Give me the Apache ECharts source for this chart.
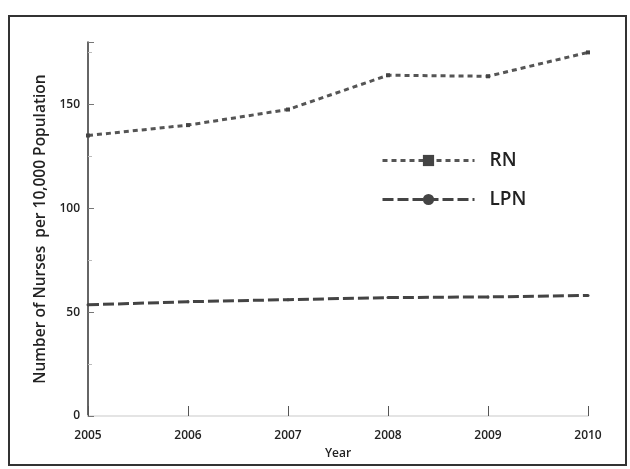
<!DOCTYPE html>
<html><head><meta charset="utf-8">
<script src="https://cdn.jsdelivr.net/npm/echarts@6/dist/echarts.min.js"></script>
<style>html,body{margin:0;padding:0;background:#fff}#c{width:630px;height:469px}</style>
</head><body><div id="c"></div>
<script>
const years = ['2005','2006','2007','2008','2009','2010'];
const rn = [135, 140, 147.5, 164, 163.5, 175];
const lpn = [53.5, 55, 56, 57, 57.3, 58];
const yTicks = [0, 50, 100, 150];

const chart = echarts.init(document.getElementById('c'));
const font = 'Open Sans, Liberation Sans, sans-serif';
chart.setOption({
  animation: false,
  backgroundColor: '#fff',
  graphic: [{type:'rect', shape:{x:9, y:16, width:617, height:449}, style:{fill:'none', stroke:'#333', lineWidth:2}}],
  grid: {left: 88, right: 42, top: 42, bottom: 53},
  legend: {
    left: 376, top: 146, orient: 'vertical', itemGap: 20,
    itemWidth: 92, itemHeight: 14,
    lineStyle: {width: 3},
    textStyle: {fontSize: 19, color: '#222', fontFamily: font, fontWeight: 600, padding:[0,0,0,10]},
    data: ['RN', 'LPN']
  },
  xAxis: {
    type: 'category', data: years, boundaryGap: false,
    name: 'Year', nameLocation: 'middle', nameGap: 32,
    nameTextStyle: {fontSize: 12, color: '#222', fontFamily: font, fontWeight: 600},
    axisLine: {show: true, lineStyle: {color: '#e4e4e4', width: 2}},
    axisTick: {show: true, inside: true, length: 10, lineStyle: {color: '#555'}},
    axisLabel: {fontSize: 12, color: '#222', fontFamily: font, fontWeight: 600, margin: 14}
  },
  yAxis: {
    type: 'value', min: 0, max: 180, interval: 50,
    name: 'Number of Nurses  per 10,000 Population', nameLocation: 'middle', nameGap: 36,
    nameTextStyle: {fontSize: 15.5, color: '#222', fontFamily: font, fontWeight: 600},
    axisLine: {show: true, lineStyle: {color: '#333', width: 1.5}},
    axisTick: {show: true, inside: true, length: 6, lineStyle: {color: '#777'}},
    minorTick: {show: true, splitNumber: 2, length: 4, lineStyle:{color:'#bbb'}},
    splitLine: {show: false},
    axisLabel: {fontSize: 12, color: '#222', fontFamily: font, fontWeight: 600, margin: 8,
      formatter: v => yTicks.includes(v) ? String(v) : ''}
  },
  series: [
    {name: 'RN', type: 'line', data: rn, symbol: 'rect', symbolSize: 4,
      lineStyle: {color: '#555', width: 3, type: [5, 4]}, itemStyle: {color: '#444'}},
    {name: 'LPN', type: 'line', data: lpn, symbol: 'circle', symbolSize: 3,
      lineStyle: {color: '#444', width: 3, type: [11, 4]}, itemStyle: {color: '#444'}}
  ]
});
</script></body></html>
